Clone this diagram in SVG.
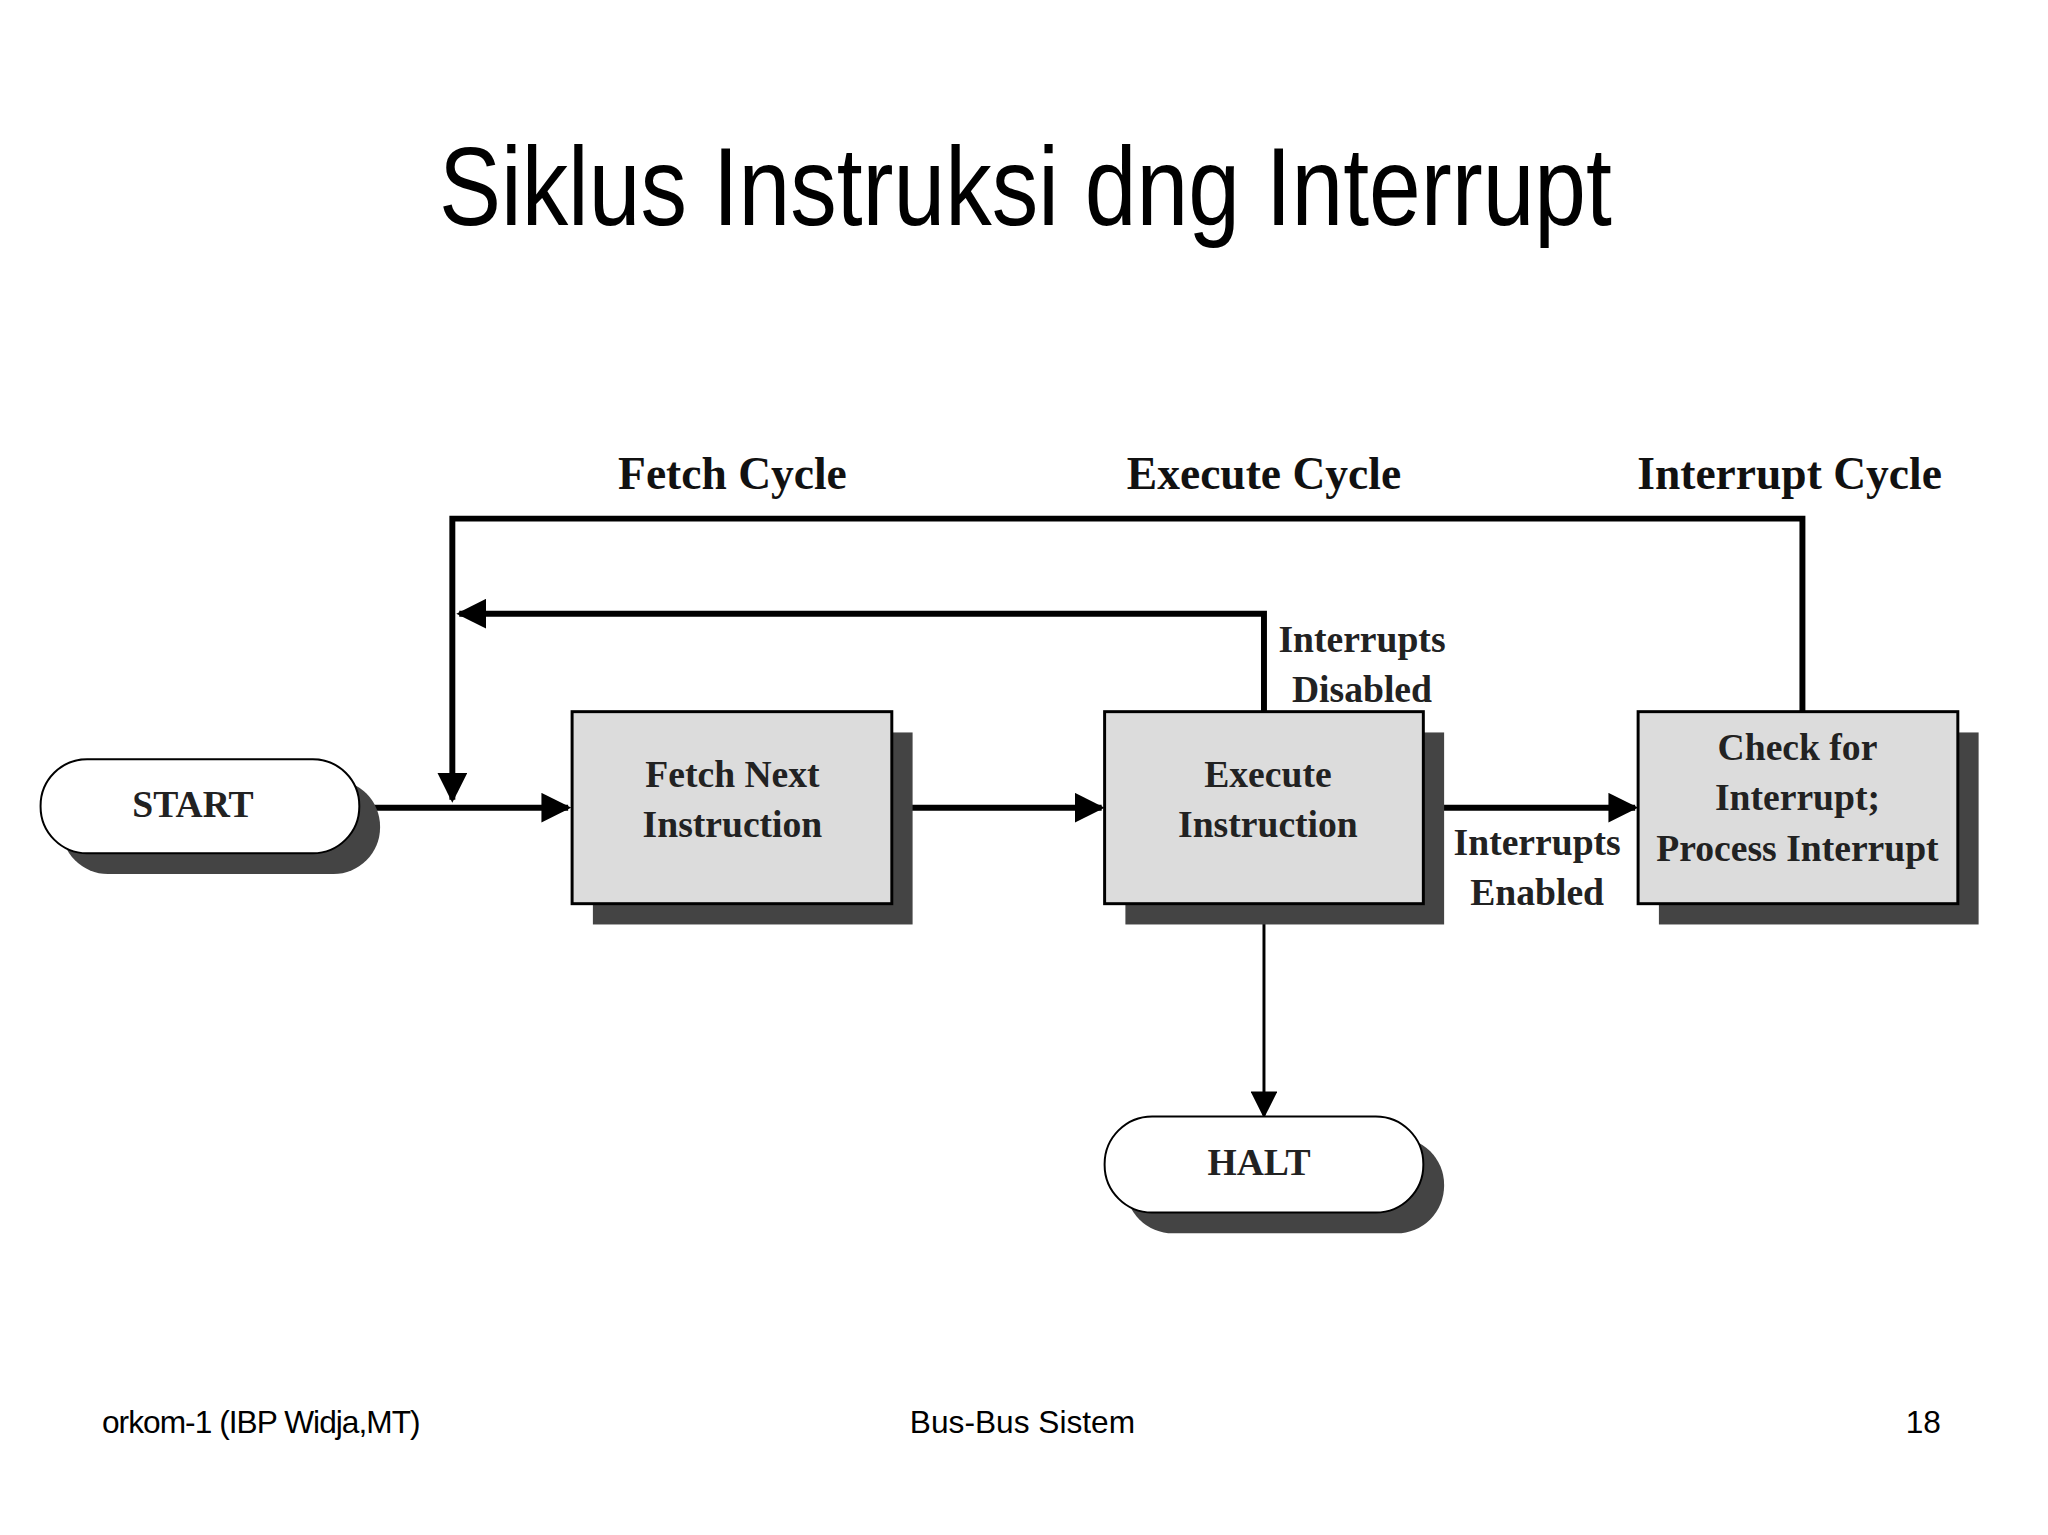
<svg xmlns="http://www.w3.org/2000/svg" width="2048" height="1535" viewBox="0 0 2048 1535">
<style>
.h{font-family:"Liberation Serif",serif;font-weight:bold;font-size:46px;fill:#111;text-anchor:middle}
.b{font-family:"Liberation Serif",serif;font-weight:bold;font-size:38px;fill:#222;text-anchor:middle}
.f{font-family:"Liberation Sans",sans-serif;font-size:32px;fill:#000}
.ln{stroke:#000;stroke-width:6;fill:none}
.box{fill:#dcdcdc;stroke:#000;stroke-width:3}
.sh{fill:#444}
.pill{fill:#fff;stroke:#000;stroke-width:2}
</style>
<defs>
<marker id="a" viewBox="0 0 10 10" refX="9" refY="5" markerWidth="5" markerHeight="5" orient="auto" markerUnits="strokeWidth"><path d="M0,0L10,5L0,10z" fill="#000"/></marker>
<marker id="a2" viewBox="0 0 10 10" refX="9" refY="5" markerWidth="9" markerHeight="9" orient="auto" markerUnits="strokeWidth"><path d="M0,0L10,5L0,10z" fill="#000"/></marker>
</defs>
<rect width="2048" height="1535" fill="#fff"/>
<g transform="scale(0.9898)">
<text x="1036" y="227" font-family="Liberation Sans,sans-serif" font-size="112" text-anchor="middle" textLength="1185" lengthAdjust="spacingAndGlyphs">Siklus Instruksi dng Interrupt</text>
<text class="h" x="740" y="494">Fetch Cycle</text>
<text class="h" x="1277" y="494">Execute Cycle</text>
<text class="h" x="1808" y="494">Interrupt Cycle</text>
<g id="connectors">
<path class="ln" d="M1821,719V524H457V808" marker-end="url(#a)"/>
<path class="ln" d="M1277,719V620H464" marker-end="url(#a)"/>
<path class="ln" d="M363,816H574" marker-end="url(#a)"/>
<path class="ln" d="M901,816H1113" marker-end="url(#a)"/>
<path class="ln" d="M1438,816H1652" marker-end="url(#a)"/>
<path stroke="#000" stroke-width="3" fill="none" d="M1277,913V1127" marker-end="url(#a2)"/>
<text class="b" x="1376" y="659">Interrupts</text>
<text class="b" x="1376" y="709">Disabled</text>
<text class="b" x="1553" y="864">Interrupts</text>
<text class="b" x="1553" y="914">Enabled</text>
</g>
<g id="start">
<rect class="sh" x="62" y="788" width="322" height="95" rx="47"/>
<rect class="pill" x="41" y="767" width="322" height="95" rx="47"/>
<text class="b" x="195" y="825">START</text>
</g>
<g id="fetch">
<rect class="sh" x="599" y="740" width="323" height="194"/>
<rect class="box" x="578" y="719" width="323" height="194"/>
<text class="b" x="740" y="795">Fetch Next</text>
<text class="b" x="740" y="846">Instruction</text>
</g>
<g id="execute">
<rect class="sh" x="1137" y="740" width="322" height="194"/>
<rect class="box" x="1116" y="719" width="322" height="194"/>
<text class="b" x="1281" y="795">Execute</text>
<text class="b" x="1281" y="846">Instruction</text>
</g>
<g id="check">
<rect class="sh" x="1676" y="740" width="323" height="194"/>
<rect class="box" x="1655" y="719" width="323" height="194"/>
<text class="b" x="1816" y="768">Check for</text>
<text class="b" x="1816" y="818">Interrupt;</text>
<text class="b" x="1816" y="870">Process Interrupt</text>
</g>
<g id="halt">
<rect class="sh" x="1137" y="1149" width="322" height="97" rx="48"/>
<rect class="pill" x="1116" y="1128" width="322" height="97" rx="48"/>
<text class="b" x="1272" y="1187">HALT</text>
</g>
<text class="f" x="103" y="1448" textLength="322">orkom-1 (IBP Widja,MT)</text>
<text class="f" x="1033" y="1448" text-anchor="middle">Bus-Bus Sistem</text>
<text class="f" x="1961" y="1448" text-anchor="end">18</text>
</g>
</svg>
